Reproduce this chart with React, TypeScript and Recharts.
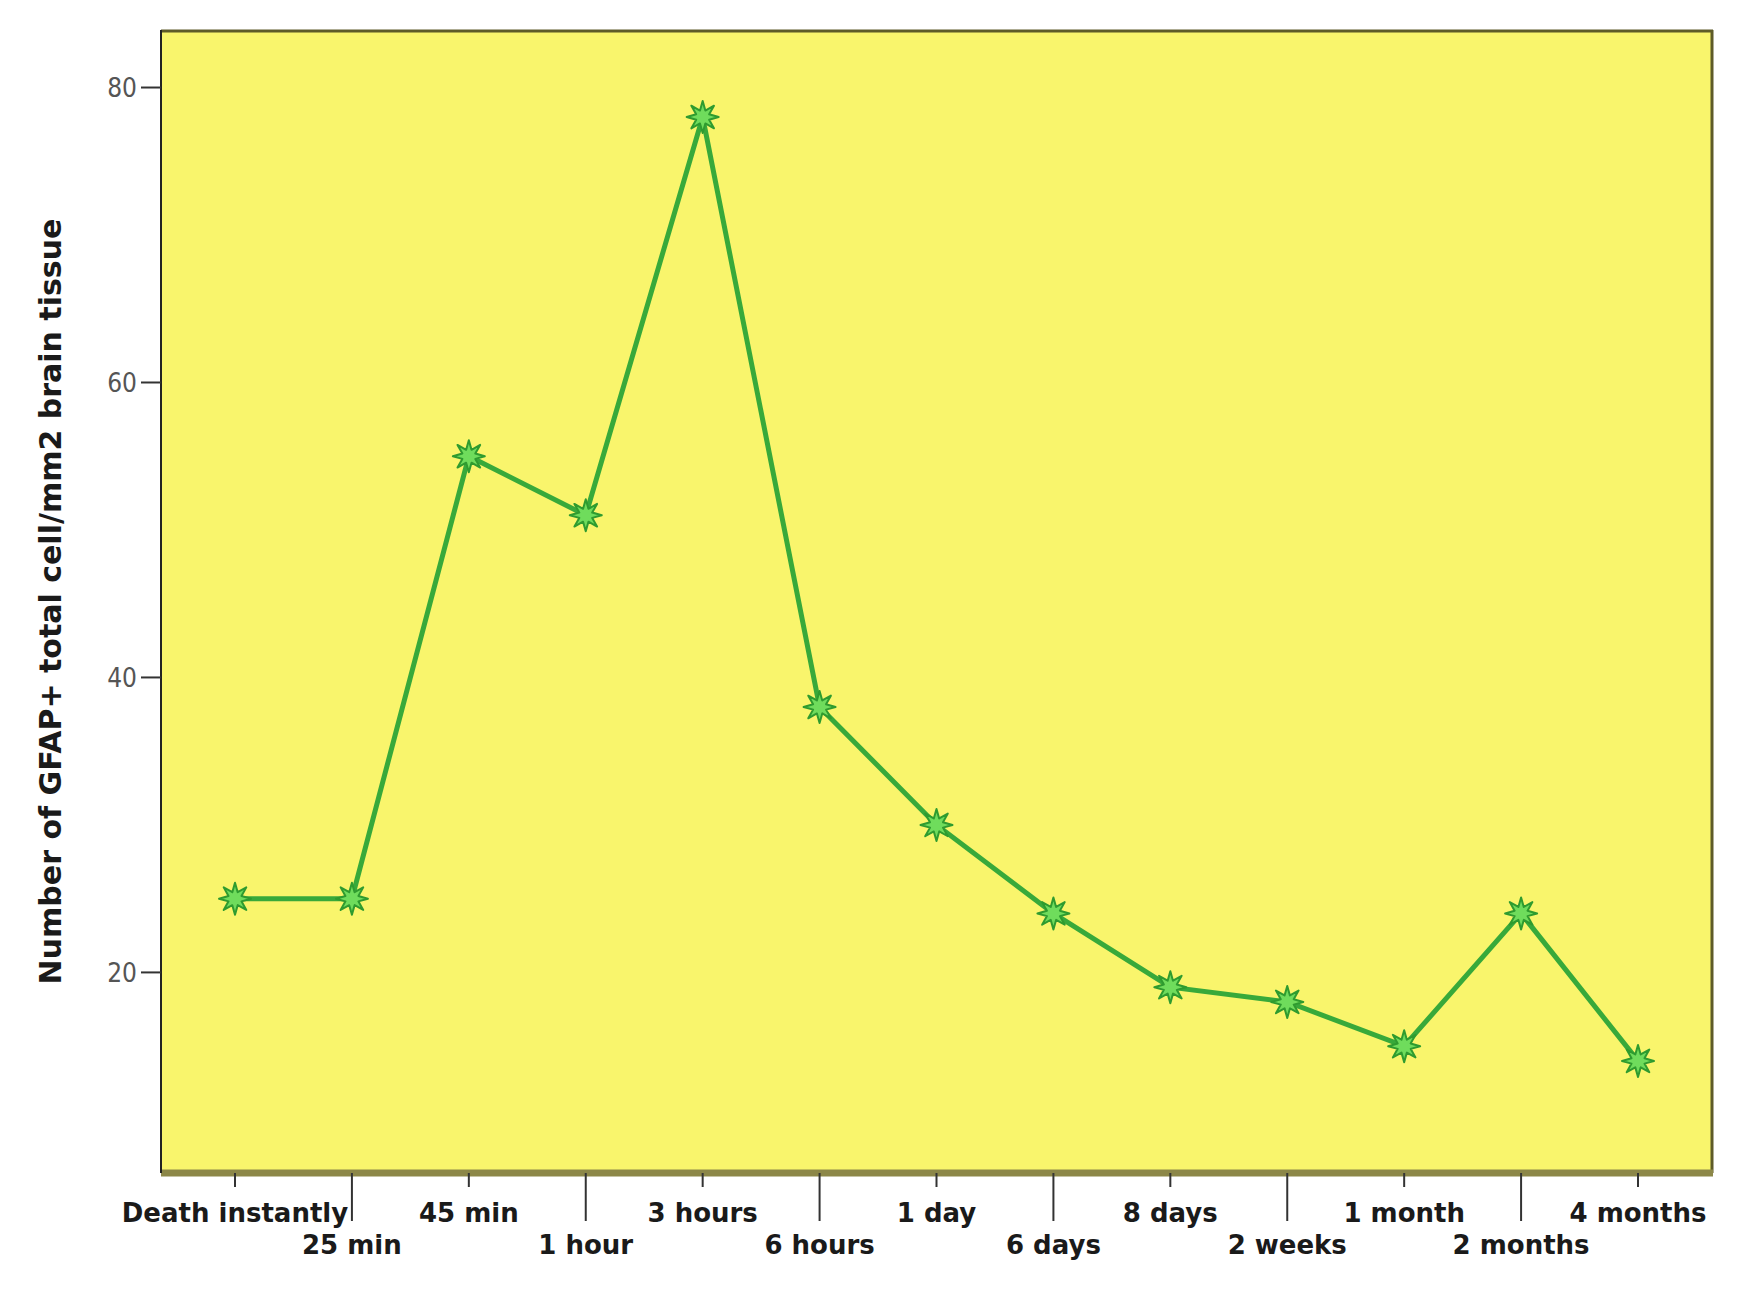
import { LineChart, Line, XAxis, YAxis, CartesianGrid } from 'recharts';

const timePoints = [
  'Death instantly', '25 min', '45 min', '1 hour', '3 hours', '6 hours',
  '1 day', '6 days', '8 days', '2 weeks', '1 month', '2 months', '4 months',
];
const gfapCounts = [25, 25, 55, 51, 78, 38, 30, 24, 19, 18, 15, 24, 14];
const yTicks = [20, 40, 60, 80];

const data = timePoints.map((time, i) => ({ time, value: gfapCounts[i] }));

const NARROW = '"Liberation Sans Narrow", "DejaVu Sans Condensed", "Liberation Sans", Arial, sans-serif';
const BOLD = '"DejaVu Sans", "Liberation Sans", Arial, sans-serif';

// alternating two-row category labels, long tick for the lower row
const TimeTick = (props: any) => {
  const { x, y, payload, index } = props;
  const lower = index % 2 === 1;
  return (
    <g>
      <line x1={x} x2={x} y1={y} y2={y + (lower ? 48 : 14)} stroke="#333" strokeWidth={2} />
      <text
        x={x}
        y={y + (lower ? 72 : 40)}
        textAnchor="middle"
        dominantBaseline="central"
        fontFamily={BOLD}
        fontWeight="bold"
        fontSize={26}
        fill="#1a1a1a"
      >
        {payload.value}
      </text>
    </g>
  );
};

const StarDot = (props: any) => {
  const { cx, cy } = props;
  if (cx == null || cy == null) return null;
  const pts: string[] = [];
  for (let i = 0; i < 16; i++) {
    const r = i % 2 === 0 ? 16 : 7;
    const a = (Math.PI / 8) * i - Math.PI / 2;
    pts.push(`${cx + r * Math.cos(a)},${cy + r * Math.sin(a)}`);
  }
  return (
    <polygon points={pts.join(' ')} fill="#6fdc5c" stroke="#2f9b2f" strokeWidth={2} strokeLinejoin="round" />
  );
};

const YLabel = (props: any) => {
  const { viewBox } = props;
  const cy = viewBox.y + viewBox.height / 2;
  return (
    <text
      x={50}
      y={cy}
      transform={`rotate(-90, 50, ${cy})`}
      textAnchor="middle"
      dominantBaseline="central"
      fontFamily={BOLD}
      fontWeight="bold"
      fontSize={30}
      fill="#1a1a1a"
    >
      Number of GFAP+ total cell/mm2 brain tissue
    </text>
  );
};

export default function App() {
  return (
    <div style={{ position: 'absolute', left: 0, top: 0, background: '#fff' }}>
      <LineChart width={1739} height={1290} data={data} margin={{ top: 30, right: 26, left: 0, bottom: 0 }}>
        {/* plot background plus top and right frame edges */}
        <CartesianGrid
          fill="#f9f56c"
          stroke="#5e5b28"
          strokeWidth={3}
          horizontalCoordinatesGenerator={({ offset }: any) => [offset.top + 1]}
          verticalCoordinatesGenerator={({ offset }: any) => [offset.left + offset.width - 1]}
        />
        <XAxis
          dataKey="time"
          type="category"
          interval={0}
          padding={{ left: 74, right: 75 }}
          height={117}
          tickSize={0}
          tickMargin={0}
          tickLine={false}
          axisLine={{ stroke: '#8c8748', strokeWidth: 7 }}
          tick={<TimeTick />}
        />
        <YAxis
          domain={[6.4, 83.9]}
          ticks={yTicks}
          allowDataOverflow
          width={161}
          tickSize={20}
          tickMargin={4}
          tickLine={{ stroke: '#333', strokeWidth: 2 }}
          axisLine={{ stroke: '#222', strokeWidth: 2 }}
          tick={{ fontFamily: NARROW, fontSize: 26, fill: '#555' }}
          label={<YLabel />}
        />
        <Line
          dataKey="value"
          stroke="#38a93a"
          strokeWidth={5}
          dot={<StarDot />}
          activeDot={false}
          isAnimationActive={false}
        />
      </LineChart>
    </div>
  );
}
